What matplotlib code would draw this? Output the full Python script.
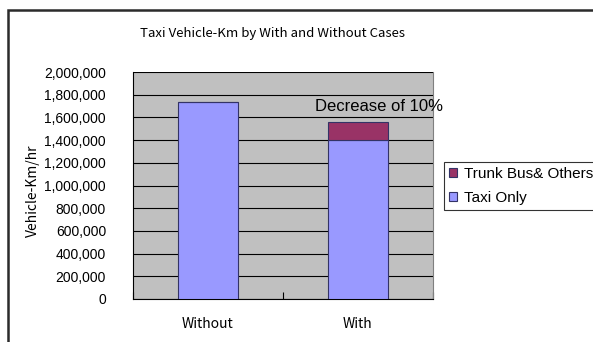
import matplotlib
matplotlib.use("Agg")
import matplotlib.pyplot as plt
from matplotlib.patches import Rectangle

# Taxi vehicle-km per hour, with and without the trunk bus scheme
categories = ["Without", "With"]
taxi_only = [1735000, 1400000]
trunk_bus = [0, 160000]
series_names = ["Trunk Bus& Others", "Taxi Only"]
y_ticks = list(range(0, 2000001, 200000))

taxi_color = "#9999FF"
trunk_color = "#993366"
jp_font = ["Noto Sans CJK JP", "DejaVu Sans"]
lat_font = ["Liberation Sans", "DejaVu Sans"]

fig = plt.figure(figsize=(5.93, 3.42), dpi=100)
fig.patch.set_facecolor("white")

# chart frame, running off the right and bottom edges
fig.patches.append(Rectangle((8 / 593, -0.2), 1.2, 1.2 - 10 / 342,
                             transform=fig.transFigure, fill=False,
                             edgecolor="#2b2b2b", linewidth=1.8))

ax = fig.add_axes([132.5 / 593, 43 / 342, 300 / 593, 227 / 342])
ax.set_facecolor("#C0C0C0")

x = list(range(len(categories)))
b_taxi = ax.bar(x, taxi_only, width=0.4, color=taxi_color,
                edgecolor="#333366", linewidth=0.8, zorder=3)
b_trunk = ax.bar(x, trunk_bus, width=0.4, bottom=taxi_only, color=trunk_color,
                 edgecolor="#333366", linewidth=0.8, zorder=3)

ax.set_xlim(-0.5, 1.5)
ax.set_ylim(0, 2000000)
ax.set_yticks(y_ticks)
ax.set_yticklabels([f"{v:,}" for v in y_ticks], fontfamily=lat_font, fontsize=10)
ax.tick_params(axis="y", length=0, pad=19)
ax.yaxis.grid(True, color="black", linewidth=0.8, zorder=1)
ax.set_axisbelow(True)

ax.set_xticks(x)
ax.set_xticklabels(categories, fontfamily=jp_font, fontsize=10)
ax.tick_params(axis="x", which="major", length=0, pad=13)
ax.set_xticks([-0.5, 0.5, 1.5], minor=True)
ax.tick_params(axis="x", which="minor", direction="in", length=5, width=0.8)

for side in ["left", "bottom"]:
    ax.spines[side].set_color("black")
    ax.spines[side].set_linewidth(0.8)
ax.spines["top"].set_visible(False)
ax.spines["right"].set_color("#808080")
ax.spines["right"].set_linewidth(0.8)

# percentage drop in taxi kilometres between the two cases
with_total = taxi_only[1] + trunk_bus[1]
drop = round((1 - with_total / taxi_only[0]) * 100)
ax.text(0.715, 1700000, f"Decrease of {drop}%", fontfamily=lat_font,
        fontsize=12, ha="left", va="center", clip_on=False, zorder=5)

fig.text(272 / 593, 1 - 33 / 342, "Taxi Vehicle-Km by With and Without Cases",
         fontfamily=jp_font, fontsize=9.5, ha="center", va="center")
fig.text(33 / 593, 1 - 191 / 342, "Vehicle-Km/hr", fontfamily=jp_font,
         fontsize=10, ha="center", va="center", rotation=90)

leg = fig.legend([b_trunk, b_taxi], series_names, loc="upper left",
                 bbox_to_anchor=(444 / 593, 1 - 162 / 342),
                 prop={"family": lat_font, "size": 11}, frameon=True,
                 fancybox=False, shadow=False, handlelength=0.55,
                 handleheight=0.55, handletextpad=0.4, labelspacing=0.66,
                 borderpad=0.33, borderaxespad=0)
leg.get_frame().set_edgecolor("black")
leg.get_frame().set_linewidth(0.8)

fig.savefig("out.png", dpi=100)
